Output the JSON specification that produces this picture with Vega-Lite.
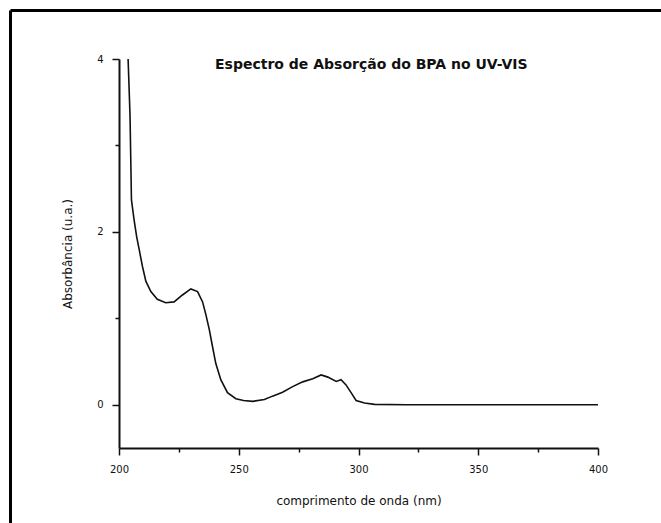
{
  "$schema": "https://vega.github.io/schema/vega-lite/v6.json",
  "width": 479,
  "height": 389,
  "autosize": "none",
  "padding": {"left": 119, "top": 59, "right": 63, "bottom": 75},
  "background": "white",
  "title": {
    "text": "Espectro de Absorção do BPA  no UV-VIS",
    "anchor": "start",
    "frame": "group",
    "font": "DejaVu Sans",
    "fontSize": 14,
    "fontWeight": "bold",
    "color": "#111",
    "baseline": "alphabetic",
    "offset": 0,
    "dx": 96,
    "dy": 74
  },
  "config": {
    "view": {"stroke": null},
    "axis": {"grid": false, "domainColor": "#111", "tickColor": "#111", "labelColor": "#111", "titleColor": "#111", "labelFont": "DejaVu Sans", "titleFont": "DejaVu Sans", "titleFontWeight": "normal"}
  },
  "layer": [
    {
      "data": {"values": [
        {"lambda": 203.8, "abs": 4.0},
        {"lambda": 204.6, "abs": 3.35},
        {"lambda": 205.2, "abs": 2.37},
        {"lambda": 206.3, "abs": 2.14},
        {"lambda": 207.4, "abs": 1.94},
        {"lambda": 208.4, "abs": 1.8},
        {"lambda": 209.8, "abs": 1.6},
        {"lambda": 211.2, "abs": 1.43},
        {"lambda": 213.3, "abs": 1.31},
        {"lambda": 216.0, "abs": 1.22},
        {"lambda": 219.5, "abs": 1.18},
        {"lambda": 223.0, "abs": 1.19},
        {"lambda": 226.5, "abs": 1.27},
        {"lambda": 230.0, "abs": 1.34},
        {"lambda": 232.8, "abs": 1.31},
        {"lambda": 234.9, "abs": 1.19},
        {"lambda": 236.3, "abs": 1.04},
        {"lambda": 237.7, "abs": 0.87},
        {"lambda": 239.0, "abs": 0.68},
        {"lambda": 240.4, "abs": 0.48},
        {"lambda": 242.5, "abs": 0.29},
        {"lambda": 245.3, "abs": 0.14},
        {"lambda": 248.8, "abs": 0.07},
        {"lambda": 252.0, "abs": 0.05},
        {"lambda": 255.8, "abs": 0.04},
        {"lambda": 260.7, "abs": 0.06},
        {"lambda": 264.1, "abs": 0.1},
        {"lambda": 268.3, "abs": 0.145},
        {"lambda": 272.5, "abs": 0.21},
        {"lambda": 276.7, "abs": 0.265},
        {"lambda": 280.9, "abs": 0.3},
        {"lambda": 284.4, "abs": 0.345},
        {"lambda": 287.2, "abs": 0.32},
        {"lambda": 290.7, "abs": 0.27},
        {"lambda": 292.7, "abs": 0.29},
        {"lambda": 294.8, "abs": 0.23},
        {"lambda": 296.9, "abs": 0.14},
        {"lambda": 299.0, "abs": 0.05},
        {"lambda": 302.5, "abs": 0.02},
        {"lambda": 306.7, "abs": 0.005},
        {"lambda": 320.0, "abs": 0.0},
        {"lambda": 350.0, "abs": 0.0},
        {"lambda": 400.0, "abs": 0.0}
      ]},
      "mark": {"type": "line", "color": "#111", "strokeWidth": 1.6, "clip": true},
      "encoding": {
        "x": {
          "field": "lambda", "type": "quantitative",
          "scale": {"domain": [200, 400], "nice": false, "zero": false},
          "axis": {
            "title": "comprimento de onda (nm)",
            "values": [200, 225, 250, 275, 300, 325, 350, 375, 400],
            "format": "d",
            "labelExpr": "datum.value % 50 == 0 ? datum.label : ''",
            "tickSize": {"condition": {"test": "datum.value % 50 != 0", "value": 4}, "value": 7},
            "tickWidth": 1.5,
            "domainWidth": 2,
            "labelFlush": false,
            "labelFontSize": 10,
            "labelPadding": 9,
            "titleFontSize": 12,
            "titlePadding": 21
          }
        },
        "y": {
          "field": "abs", "type": "quantitative",
          "scale": {"domain": [-0.5, 4], "nice": false, "zero": false},
          "axis": {
            "title": "Absorbância (u.a.)",
            "values": [0, 1, 2, 3, 4],
            "format": "d",
            "labelExpr": "datum.value % 2 == 0 ? datum.label : ''",
            "tickSize": {"condition": {"test": "datum.value % 2 != 0", "value": 4}, "value": 7},
            "tickWidth": 1.5,
            "domainWidth": 2,
            "labelFontSize": 10,
            "labelPadding": 9,
            "titleFontSize": 12,
            "titlePadding": 22
          }
        }
      }
    },
    {
      "data": {"values": [{}]},
      "mark": {"type": "rule", "color": "black", "strokeWidth": 3, "clip": false},
      "encoding": {
        "x": {"datum": 154.7, "type": "quantitative"},
        "x2": {"datum": 430},
        "y": {"datum": 4.56, "type": "quantitative"}
      }
    },
    {
      "data": {"values": [{}]},
      "mark": {"type": "rule", "color": "black", "strokeWidth": 3, "clip": false},
      "encoding": {
        "x": {"datum": 154.7, "type": "quantitative"},
        "y": {"datum": 4.56, "type": "quantitative"},
        "y2": {"datum": -1.5}
      }
    }
  ]
}
